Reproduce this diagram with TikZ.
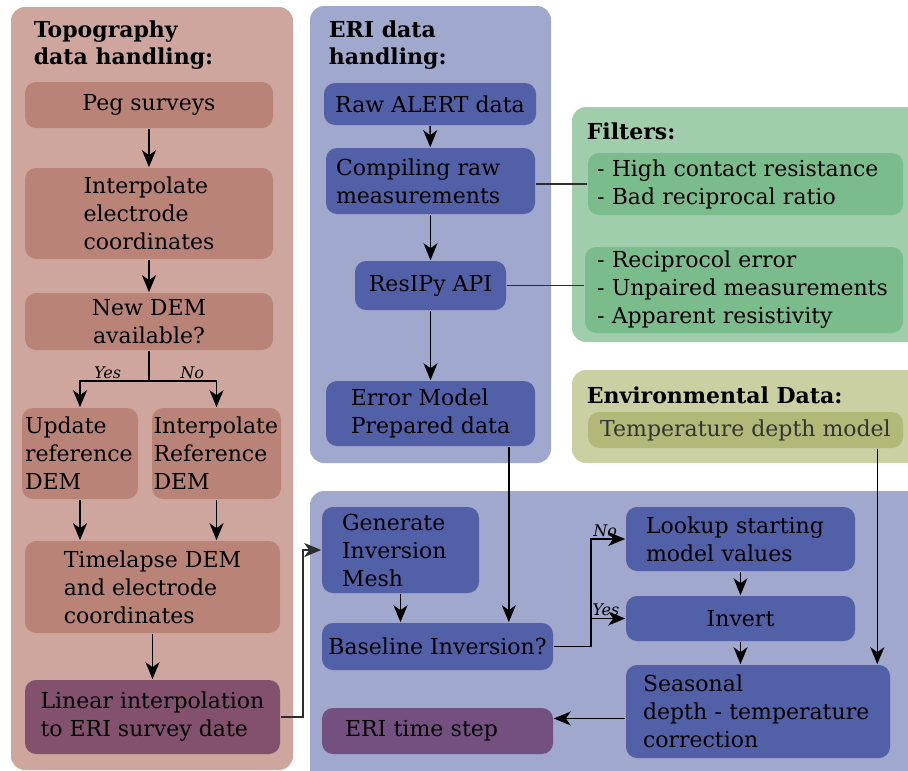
\documentclass[tikz,border=0pt]{standalone}
\usepackage{fontspec}
\setmainfont{DejaVu Serif}
\usepackage{xcolor}
\usetikzlibrary{arrows.meta}

\definecolor{topobg}{RGB}{206,166,157}
\definecolor{topoin}{RGB}{185,132,119}
\definecolor{linfill}{RGB}{131,80,110}
\definecolor{eribg}{RGB}{160,168,205}
\definecolor{eriin}{RGB}{82,96,168}
\definecolor{stepfill}{RGB}{116,80,128}
\definecolor{filtbg}{RGB}{160,205,172}
\definecolor{filtin}{RGB}{123,188,141}
\definecolor{envbg}{RGB}{203,207,161}
\definecolor{envin}{RGB}{179,184,121}
\definecolor{darkline}{RGB}{45,45,45}

\tikzset{
  box/.style={rounded corners=11pt, inner sep=0pt, align=center,
    font=\fontsize{22}{28}\selectfont},
  sized/.style 2 args={minimum width=#1, minimum height=#2},
  lpad/.style 2 args={align=left, inner xsep=#1, text width=#2},
  topobox/.style={box, fill=topoin},
  eribox/.style={box, fill=eriin},
  filtbox/.style={box, fill=filtin},
  title/.style={anchor=north west, inner sep=0pt, align=left,
    font=\fontsize{22}{27}\selectfont\bfseries},
  lab/.style={inner sep=1.5pt, font=\fontsize{16}{18}\selectfont\itshape},
  panel/.style={rounded corners=14pt}
}

\begin{document}
\begin{tikzpicture}[x=1pt, y=1pt, ->, >={Stealth[length=17pt,width=14pt,inset=5pt]}, line width=1.6pt]
	\clip (0,0) rectangle (908,-771);

	% panels
	\fill[panel, topobg] (11,-7) rectangle (293,-770);
	\fill[panel, eribg] (310,-6) rectangle (551,-463);
	\fill[panel, filtbg] (572,-107) rectangle (925,-342);
	\fill[panel, envbg] (572,-370) rectangle (925,-463);
	\fill[panel, eribg] (310,-491) rectangle (925,-790);

	\node[title] (ttopo) at (33,-20) {Topography\\data handling:};
	\node[title] (teri) at (328,-20) {ERI data\\handling:};
	\node[title] (tfilt) at (586,-122) {Filters:};
	\node[title] (tenv) at (586,-386) {Environmental Data:};

	% topography
	\node[topobox, sized={248pt}{46pt}] (peg) at (149,-105) {Peg surveys};
	\node[topobox, sized={248pt}{91pt}, align=left] (interp) at (149,-213.5) {Interpolate\\electrode\\coordinates};
	\node[topobox, sized={248pt}{57pt}] (dem) at (149,-321.5) {New DEM\\available?};
	\coordinate (split) at (149,-381);
	\node[topobox, sized={116pt}{91pt}, lpad={3pt}{110pt}] (upd) at (80,-453.5) {Update\\reference\\DEM};
	\node[topobox, sized={129pt}{91pt}, lpad={1.5pt}{126pt}] (iref) at (216.5,-453.5) {Interpolate\\Reference\\DEM};
	\node[topobox, sized={255pt}{92pt}, align=left] (tl) at (152.5,-587) {Timelapse DEM\\and electrode\\coordinates};
	\node[box, fill=linfill, sized={255pt}{74pt}, align=left] (lin) at (152.5,-717) {Linear interpolation\\to ERI survey date};

	% ERI data
	\node[eribox, sized={212pt}{42pt}] (raw) at (430,-104) {Raw ALERT data};
	\node[eribox, sized={209pt}{66pt}, lpad={10pt}{189pt}] (comp) at (430.5,-181) {Compiling raw\\measurements};
	\node[eribox, sized={151pt}{49pt}] (api) at (430.5,-285.5) {ResIPy API};
	\node[eribox, sized={209pt}{65pt}, align=left] (err) at (430.5,-413.5) {Error Model\\Prepared data};

	% filters and environment
	\node[filtbox, sized={315pt}{62pt}, lpad={9pt}{297pt}] (f1) at (745.5,-184) {- High contact resistance\\- Bad reciprocal ratio};
	\node[filtbox, sized={318pt}{86pt}, lpad={12pt}{294pt}] (f2) at (744,-290) {- Reciprocol error\\- Unpaired measurements\\- Apparent resistivity};
	\node[box, fill=envin, sized={315pt}{36pt}, text=black!80] (temp) at (745.5,-430) {Temperature depth model};

	% inversion
	\node[eribox, sized={157pt}{86pt}, lpad={20pt}{117pt}] (gen) at (400.5,-550) {Generate\\Inversion\\Mesh};
	\node[eribox, sized={231pt}{47pt}] (bl) at (437.5,-646.5) {Baseline Inversion?};
	\node[eribox, sized={229pt}{64pt}, lpad={20pt}{189pt}] (look) at (740.5,-539) {Lookup starting\\model values};
	\node[eribox, sized={229pt}{45pt}] (inv) at (740.5,-618.5) {Invert};
	\node[eribox, sized={264pt}{93pt}, lpad={17pt}{230pt}] (sea) at (758,-711.5) {Seasonal\\depth - temperature\\correction};
	\node[box, fill=stepfill, sized={231pt}{46pt}, lpad={23pt}{185pt}] (step) at (437.5,-731) {ERI time step};

	% topography links
	\path (peg) edge (interp);
	\path (interp) edge (dem);
	\draw[-] (dem) -- (split);
	\draw (split) -| node[lab, pos=0.3, above] {Yes} (upd);
	\draw (split) -| node[lab, pos=0.32, above] {No} (iref);
	\draw (upd) -- (upd |- tl.north);
	\draw (iref) -- (iref |- tl.north);
	\path (tl) edge (lin);
	\draw[darkline] (lin.east) -- ++(22,0) |- (gen.west);

	% ERI links
	\path (raw) edge (comp);
	\path (comp) edge (api);
	\path (api) edge (err);
	\draw[-, darkline] (comp.east |- f1.west) -- (f1.west);
	\draw[-, darkline] (api.east) -- (api.east -| f2.west);
	\coordinate (errout) at ([xshift=-27pt]err.south east);
	\draw (errout) -- (errout |- bl.north);
	\coordinate (envout) at ([xshift=-26.5pt]temp.south east);
	\draw (envout) -- (envout |- sea.north);

	% inversion links
	\draw (gen) -- (gen |- bl.north);
	\draw[-] (bl.east) -- ++(37,0) coordinate (fork);
	\draw (fork) |- node[lab, pos=0.71, above] {No} (look.west);
	\draw (fork) |- node[lab, pos=0.72, above] {Yes} (inv.west);
	\path (look) edge (inv);
	\draw (inv) -- (inv |- sea.north);
	\coordinate (seaout) at ([yshift=-7pt]sea.west);
	\draw (seaout) -- (seaout -| step.east);
\end{tikzpicture}
\end{document}
